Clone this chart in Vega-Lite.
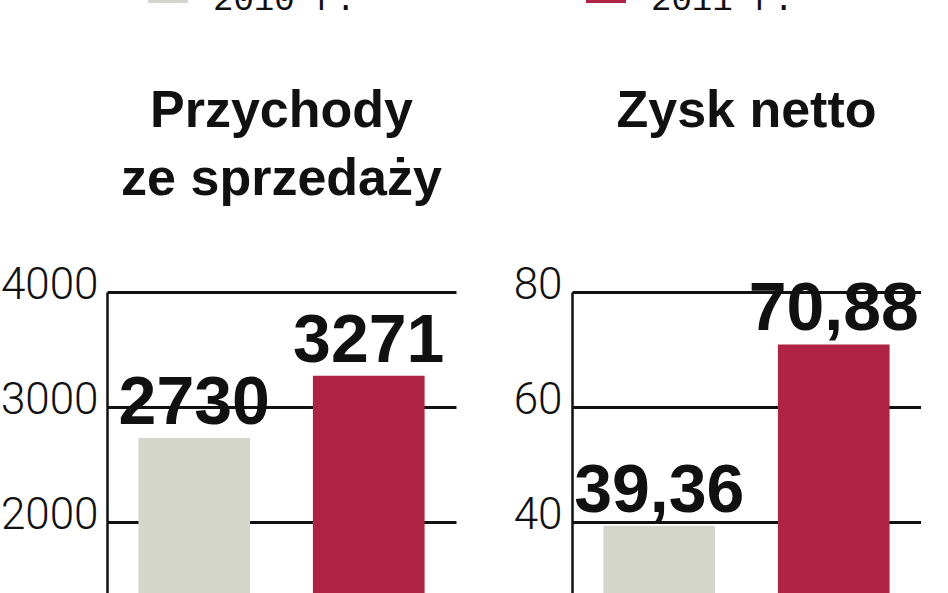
{
  "$schema": "https://vega.github.io/schema/vega-lite/v6.json",
  "padding": {"top": -37, "left": 0, "right": 0, "bottom": 0},
  "background": "white",
  "datasets": {
    "przychody": [
      {"rok": "2010 r.", "value": 2730},
      {"rok": "2011 r.", "value": 3271}
    ],
    "zysk": [
      {"rok": "2010 r.", "value": 39.36},
      {"rok": "2011 r.", "value": 70.88}
    ]
  },
  "spacing": 0,
  "resolve": {"scale": {"color": "shared"}, "legend": {"color": "shared"}},
  "hconcat": [
    {
      "data": {"name": "przychody"},
      "width": 349,
      "height": 460,
      "title": {"text": ["Przychody", "ze sprzedaży"]},
      "encoding": {
        "x": {"field": "rok", "type": "nominal", "axis": null,
              "scale": {"paddingInner": 0.36, "paddingOuter": 0.18}},
        "y": {"field": "value", "type": "quantitative",
              "scale": {"domain": [0, 4000], "nice": false},
              "axis": {"values": [0, 1000, 2000, 3000, 4000], "minExtent": 107, "maxExtent": 107, "labelPadding": 9}}
      },
      "layer": [
        {"mark": {"type": "bar"},
         "encoding": {"color": {"field": "rok", "type": "nominal",
           "scale": {"domain": ["2010 r.", "2011 r."], "range": ["#d5d6cb", "#b02443"]},
           "legend": {"orient": "none", "legendX": 41, "legendY": -329, "direction": "horizontal", "title": null,
             "symbolType": "square", "symbolSize": 1600, "symbolStrokeWidth": 0, "symbolOpacity": 1,
             "labelFont": "Liberation Mono", "labelFontSize": 34, "labelColor": "#111", "labelBaseline": "top",
             "labelOffset": 25, "columnPadding": 230, "padding": 0, "labelLimit": 400}}}},
        {"mark": {"type": "text", "dy": -14, "baseline": "alphabetic", "align": "center", "font": "Liberation Sans", "fontWeight": "bold", "fontSize": 68, "color": "#111"},
         "encoding": {"text": {"field": "value", "type": "quantitative", "format": "d"}}}
      ]
    },
    {
      "data": {"name": "zysk"},
      "width": 349,
      "height": 460,
      "title": {"text": ["Zysk netto", ""]},
      "encoding": {
        "x": {"field": "rok", "type": "nominal", "axis": null,
              "scale": {"paddingInner": 0.36, "paddingOuter": 0.18}},
        "y": {"field": "value", "type": "quantitative",
              "scale": {"domain": [0, 80], "nice": false},
              "axis": {"values": [0, 20, 40, 60, 80], "minExtent": 116, "maxExtent": 116, "labelPadding": 10}}
      },
      "layer": [
        {"mark": {"type": "bar"},
         "encoding": {"color": {"field": "rok", "type": "nominal"}}},
        {"mark": {"type": "text", "dy": -14, "baseline": "alphabetic", "align": "center", "font": "Liberation Sans", "fontWeight": "bold", "fontSize": 68, "color": "#111"},
         "encoding": {"text": {"field": "value", "type": "quantitative", "format": ".2f"}}}
      ]
    }
  ],
  "config": {
    "locale": {"number": {"decimal": ",", "thousands": "", "grouping": [3], "currency": ["", " zł"]}},
    "view": {"stroke": null},
    "title": {"font": "Liberation Sans", "fontWeight": "bold", "fontSize": 52, "lineHeight": 68, "color": "#111",
              "frame": "group", "anchor": "middle", "offset": 57},
    "axisY": {"grid": true, "gridColor": "#111", "gridWidth": 3, "gridOpacity": 1,
              "domain": true, "domainColor": "#111", "domainWidth": 2.5,
              "ticks": false, "title": null,
              "labelFont": "Roboto", "labelFontSize": 44, "labelColor": "#111",
              "labelBaseline": "alphabetic", "labelOffset": 6, "labelFontWeight": 300}
  }
}
